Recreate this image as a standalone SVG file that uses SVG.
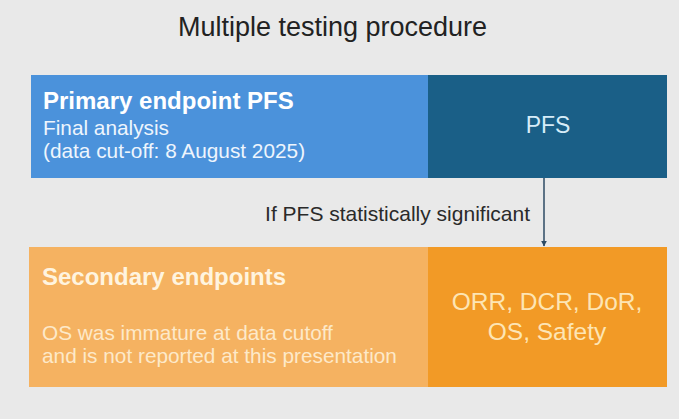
<svg xmlns="http://www.w3.org/2000/svg" width="679" height="419" viewBox="0 0 679 419">
<style>
text{font-family:"Liberation Sans",Arial,sans-serif}
.title{font-size:27px;fill:#222}
.head{font-size:24px;font-weight:bold}
.body{font-size:20.8px}
.big{font-size:24.5px;text-anchor:middle}
.cond{font-size:21px;fill:#2a2a2a;text-anchor:end}
</style>
<defs>
<marker id="arr" viewBox="0 0 10 10" refX="9" refY="5" markerWidth="6" markerHeight="6" orient="auto" markerUnits="userSpaceOnUse">
<path d="M0,0 L10,5 L0,10 z" fill="#2c4a63"/>
</marker>
</defs>
<rect width="679" height="419" fill="#e9e9e9"/>
<text class="title" x="332.5" y="36" text-anchor="middle">Multiple testing procedure</text>
<g id="primary">
<rect x="31" y="75" width="397" height="103" fill="#4b92db"/>
<text class="head" x="43" y="109" fill="#ffffff">Primary endpoint PFS</text>
<text class="body" x="43" y="135" fill="#eef5fd">Final analysis</text>
<text class="body" x="43" y="158" fill="#eef5fd">(data cut-off: 8 August 2025)</text>
</g>
<g id="pfs">
<rect x="428" y="75" width="239" height="103" fill="#1a5f87"/>
<text x="548" y="133" font-size="23" text-anchor="middle" fill="#d6ecf8">PFS</text>
</g>
<g id="secondary">
<rect x="29" y="247" width="399" height="140" fill="#f5b261"/>
<text class="head" x="42" y="285" fill="#fff4df">Secondary endpoints</text>
<text class="body" x="42" y="340" fill="#fde9c9">OS was immature at data cutoff</text>
<text class="body" x="42" y="363" fill="#fde9c9">and is not reported at this presentation</text>
</g>
<g id="endpoints">
<rect x="428" y="247" width="239" height="140" fill="#f29a26"/>
<text class="big" x="547" y="310" fill="#fde5b4">ORR, DCR, DoR,</text>
<text class="big" x="547" y="340" fill="#fde5b4">OS, Safety</text>
</g>
<g id="connectors">
<line x1="544" y1="178" x2="544" y2="246" stroke="#2c4a63" stroke-width="1.5" marker-end="url(#arr)"/>
<text class="cond" x="530" y="221">If PFS statistically significant</text>
</g>
</svg>
